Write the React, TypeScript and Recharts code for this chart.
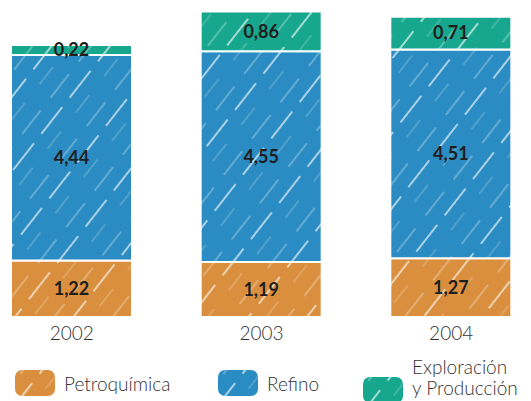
import { BarChart, Bar, XAxis, YAxis, LabelList, Legend } from 'recharts';

const years = ['2002', '2003', '2004'];
const petroquimica = [1.22, 1.19, 1.27];
const refino = [4.44, 4.55, 4.51];
const exploracion = [0.22, 0.86, 0.71];

const series = [
  { key: 'petro', name: 'Petroquímica', color: '#da8f3e', values: petroquimica },
  { key: 'refino', name: 'Refino', color: '#2a8cc2', values: refino },
  { key: 'expl', name: 'Exploración\ny Producción', color: '#17a78e', values: exploracion },
];

const data = years.map((year, i) => ({
  year,
  petro: petroquimica[i],
  refino: refino[i],
  expl: exploracion[i],
}));

const fmt = (v: number) => v.toFixed(2).replace('.', ',');

function Scribbles() {
  return (
    <defs>
      {series.map((s) => (
        <pattern
          key={s.key}
          id={`scrib-${s.key}`}
          patternUnits="userSpaceOnUse"
          width={46}
          height={46}
          patternTransform="rotate(-52)"
        >
          <rect width={46} height={46} fill={s.color} />
          <line x1={0} y1={8} x2={30} y2={8} stroke="#fff" strokeOpacity={0.45} strokeWidth={1.2} />
          <line x1={12} y1={23} x2={46} y2={23} stroke="#fff" strokeOpacity={0.6} strokeWidth={2} />
          <line x1={4} y1={37} x2={26} y2={37} stroke="#fff" strokeOpacity={0.35} strokeWidth={1} />
        </pattern>
      ))}
    </defs>
  );
}

function LegendBox() {
  const xs = [14, 217, 362];
  return (
    <div style={{ position: 'relative', width: 531, height: 46 }}>
      {series.map((s, i) => (
        <div key={s.key} style={{ position: 'absolute', left: xs[i], top: 0, display: 'flex', alignItems: 'center' }}>
          <svg width={42} height={28} style={{ marginTop: 18 }}>
            <Scribbles />
            <rect x={1} y={1} width={40} height={26} rx={7} fill={`url(#scrib-${s.key})`} />
          </svg>
          <div
            style={{
              marginLeft: 8,
              marginTop: 18,
              fontFamily: 'Lato, sans-serif',
              fontWeight: 300,
              fontSize: 19,
              lineHeight: '21px',
              color: '#333',
              whiteSpace: 'pre',
              transform: s.name.includes('\n') ? 'translateY(-13px)' : undefined,
            }}
          >
            {s.name}
          </div>
        </div>
      ))}
    </div>
  );
}

export default function App() {
  return (
    <div style={{ position: 'absolute', left: 0, top: 0, width: 531, height: 401, background: '#fff' }}>
      <BarChart
        width={531}
        height={401}
        data={data}
        margin={{ top: 0, right: -15, bottom: 0, left: -23 }}
        barCategoryGap={0}
      >
        <Scribbles />
        <XAxis
          dataKey="year"
          axisLine={false}
          tickLine={false}
          height={84}
          tick={{ fill: '#333', fontSize: 19, fontFamily: 'Lato, sans-serif', fontWeight: 300 }}
          tickMargin={4}
        />
        <YAxis hide domain={[0, 6.85]} allowDataOverflow />
        {series.map((s) => (
          <Bar
            key={s.key}
            dataKey={s.key}
            stackId="a"
            barSize={121}
            fill={`url(#scrib-${s.key})`}
            stroke="#fff"
            strokeWidth={2}
            isAnimationActive={false}
          >
            <LabelList
              dataKey={s.key}
              position="center"
              formatter={(v: any) => fmt(Number(v))}
              style={{ fill: '#1e1e1e', fontSize: 18, fontWeight: 700, fontFamily: 'Lato, sans-serif' }}
            />
          </Bar>
        ))}
        <Legend
          verticalAlign="middle"
          layout="horizontal"
          wrapperStyle={{ position: 'absolute', top: 351, left: 0, width: 531 }}
          content={() => <LegendBox />}
        />
      </BarChart>
    </div>
  );
}
